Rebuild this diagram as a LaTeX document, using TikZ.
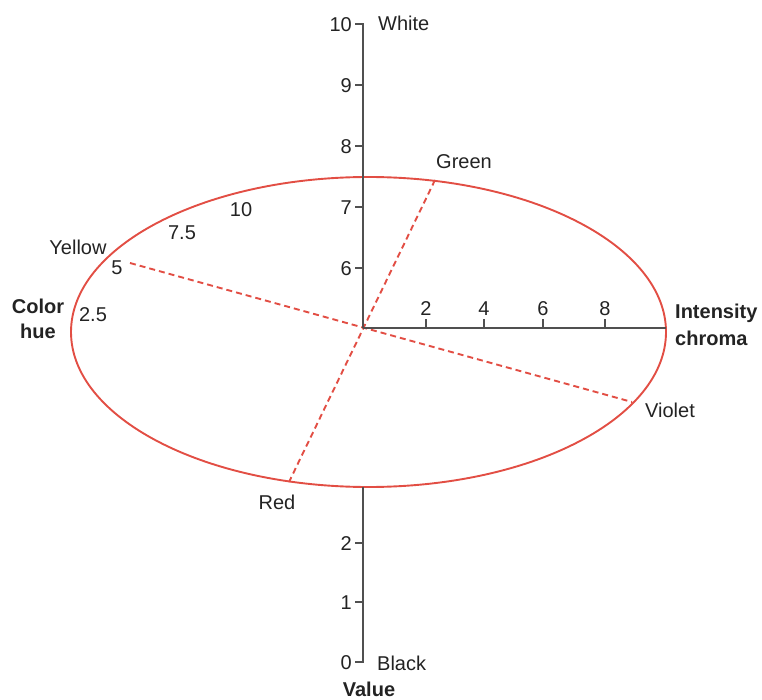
\documentclass[tikz,border=0pt]{standalone}
\usepackage{fontspec}
\setmainfont{Liberation Sans}
\definecolor{axisgray}{RGB}{80,80,80}
\definecolor{huered}{RGB}{226,78,68}
\definecolor{txt}{RGB}{35,35,35}
\begin{document}
\begin{tikzpicture}[x=1pt,y=-1pt,
  lbl/.style={inner sep=0pt,text=txt,font=\fontsize{20}{24}\selectfont,text height=14.3pt,text depth=0pt},
  blbl/.style={lbl,font=\fontsize{20}{24}\selectfont\bfseries},
  axisline/.style={draw=axisgray,line width=2pt,line cap=butt},
  tickline/.style={draw=axisgray,line width=1.6pt},
  huecurve/.style={draw=huered,line width=1.9pt},
  hueline/.style={draw=huered,line width=1.9pt,dash pattern=on 6pt off 4pt}]
\useasboundingbox (0,0) rectangle (762,700);

% coordinates
\coordinate (O) at (363,328);
\coordinate (vTop) at (363,24);
\coordinate (vLowTop) at (363,487);
\coordinate (vBot) at (363,662);
\coordinate (hEnd) at (666,328);
\coordinate (gE) at (435,180);
\coordinate (rE) at (289,482);
\coordinate (yE) at (130,263);
\coordinate (vE) at (632,402);

% dashed hue lines
\draw[hueline] (gE) -- (rE);
\draw[hueline] (yE) -- (vE);

% ellipse
\draw[huecurve] (368.5,332) ellipse [x radius=297.5pt, y radius=155pt];

% axes
\draw[axisline] (vTop) -- (O);
\draw[axisline] (vLowTop) -- (vBot);
\draw[axisline] (O) -- (hEnd);

% vertical ticks and labels
\foreach \v/\y in {10/24,9/85,8/146,7/207,6/268,2/543,1/602,0/662}{
  \draw[tickline] (355,\y) -- (364,\y);
  \node[lbl,anchor=east] (v\v) at (352,\y) {\v};
}
% horizontal ticks and labels
\foreach \h/\x in {2/426,4/484,6/543,8/605}{
  \draw[tickline] (\x,328) -- (\x,319);
  \node[lbl] (h\h) at (\x,308) {\h};
}

% labels
\node[lbl,anchor=west] (white) at (378,23) {White};
\node[lbl,anchor=west] (black) at (377,663) {Black};
\node[blbl] (value) at (369,689) {Value};
\node[blbl] (color) at (38,306) {Color};
\node[blbl] (hue) at (38,331) {hue};
\node[blbl,anchor=west] (intensity) at (675,311) {Intensity};
\node[blbl,anchor=west] (chroma) at (675,338) {chroma};
\node[lbl] (green) at (464,161) {Green};
\node[lbl] (violet) at (670,410) {Violet};
\node[lbl] (red) at (277,502) {Red};
\node[lbl] (yellow) at (78,247) {Yellow};
\node[lbl] (h5) at (117,267) {5};
\node[lbl] (h25) at (93,314) {2.5};
\node[lbl] (h75) at (182,232) {7.5};
\node[lbl] (h10) at (241,209) {10};
\end{tikzpicture}
\end{document}
